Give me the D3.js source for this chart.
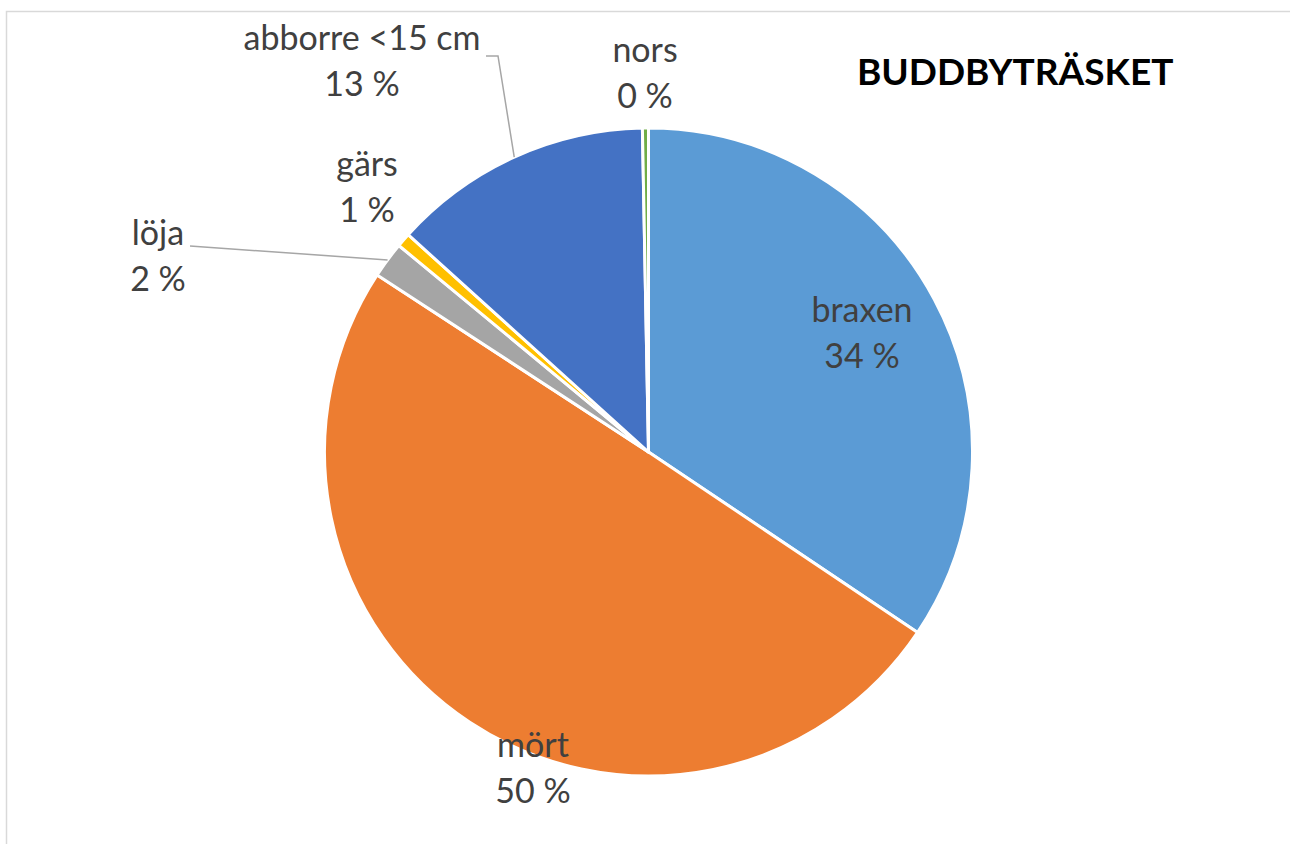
<!DOCTYPE html>
<html>
<head>
<meta charset="utf-8">
<script src="https://cdn.jsdelivr.net/npm/d3@7"></script>
<style>
  body { margin: 0; background: #fff; }
  svg { display: block; }
</style>
</head>
<body>
<svg id="chart"></svg>
<script>
const width = 1290
const height = 844

// data (share of catch, %)
const species = ['braxen', 'mört', 'löja', 'gärs', 'abborre <15 cm', 'nors']
const shares = [34.4, 49.8, 1.8, 0.7, 13.0, 0.3]
const colors = ['#5b9bd5', '#ed7d31', '#a5a5a5', '#ffc000', '#4472c4', '#70ad47']
const title = 'BUDDBYTRÄSKET'

// where each label sits (centre x, baseline of first line), and whether it gets a leader line
const labelLayout = {
  braxen: { x: 862, y: 322 },
  mört: { x: 533, y: 757 },
  löja: { x: 158, y: 245, leader: [[190, 246]] },
  gärs: { x: 367, y: 176 },
  'abborre <15 cm': { x: 362, y: 50, leader: [[486, 56], [498, 56]] },
  nors: { x: 645, y: 62 }
}

const cx = 648.5
const cy = 452
const radius = 324
const lineGap = 46

const svg = d3.select('#chart')
  .attr('width', width)
  .attr('height', height)

// chart area frame
svg.append('rect')
  .attr('x', 6.5)
  .attr('y', 11.5)
  .attr('width', 1400)
  .attr('height', 1000)
  .attr('fill', 'none')
  .attr('stroke', '#d9d9d9')
  .attr('stroke-width', 1.5)

const color = d3.scaleOrdinal().domain(species).range(colors)

const pie = d3.pie()
  .sort(null)
  .value(d => d.value)

const arcs = pie(species.map((s, i) => ({ name: s, value: shares[i] })))
const total = d3.sum(shares)

const arc = d3.arc()
  .innerRadius(0)
  .outerRadius(radius)

const g = svg.append('g')
  .attr('transform', `translate(${cx}, ${cy})`)

g.selectAll('path')
  .data(arcs)
  .enter()
  .append('path')
  .attr('d', arc)
  .attr('fill', d => color(d.data.name))
  .attr('stroke', 'white')
  .attr('stroke-width', 3)
  .attr('stroke-linejoin', 'round')

// leader lines from the slice edge to the label
arcs.forEach(d => {
  const lay = labelLayout[d.data.name]
  if (!lay.leader) return
  const mid = (d.startAngle + d.endAngle) / 2
  const edge = [cx + radius * Math.sin(mid), cy - radius * Math.cos(mid)]
  const pts = lay.leader.concat([edge])
  svg.append('path')
    .attr('d', d3.line()(pts))
    .attr('fill', 'none')
    .attr('stroke', '#a6a6a6')
    .attr('stroke-width', 1.5)
})

const labels = svg.append('g')
  .attr('font-family', 'Lato, "Open Sans", sans-serif')
  .attr('font-size', '34px')
  .attr('fill', '#404040')
  .attr('text-anchor', 'middle')

arcs.forEach(d => {
  const lay = labelLayout[d.data.name]
  const pct = Math.round(d.data.value / total * 100)
  labels.append('text')
    .attr('x', lay.x)
    .attr('y', lay.y)
    .text(d.data.name)
  labels.append('text')
    .attr('x', lay.x)
    .attr('y', lay.y + lineGap)
    .text(`${pct} %`)
})

svg.append('text')
  .attr('x', 857)
  .attr('y', 85)
  .attr('font-family', 'Lato, "Open Sans", sans-serif')
  .attr('font-size', '37px')
  .attr('font-weight', 'bold')
  .attr('fill', '#000')
  .text(title)
</script>
</body>
</html>
